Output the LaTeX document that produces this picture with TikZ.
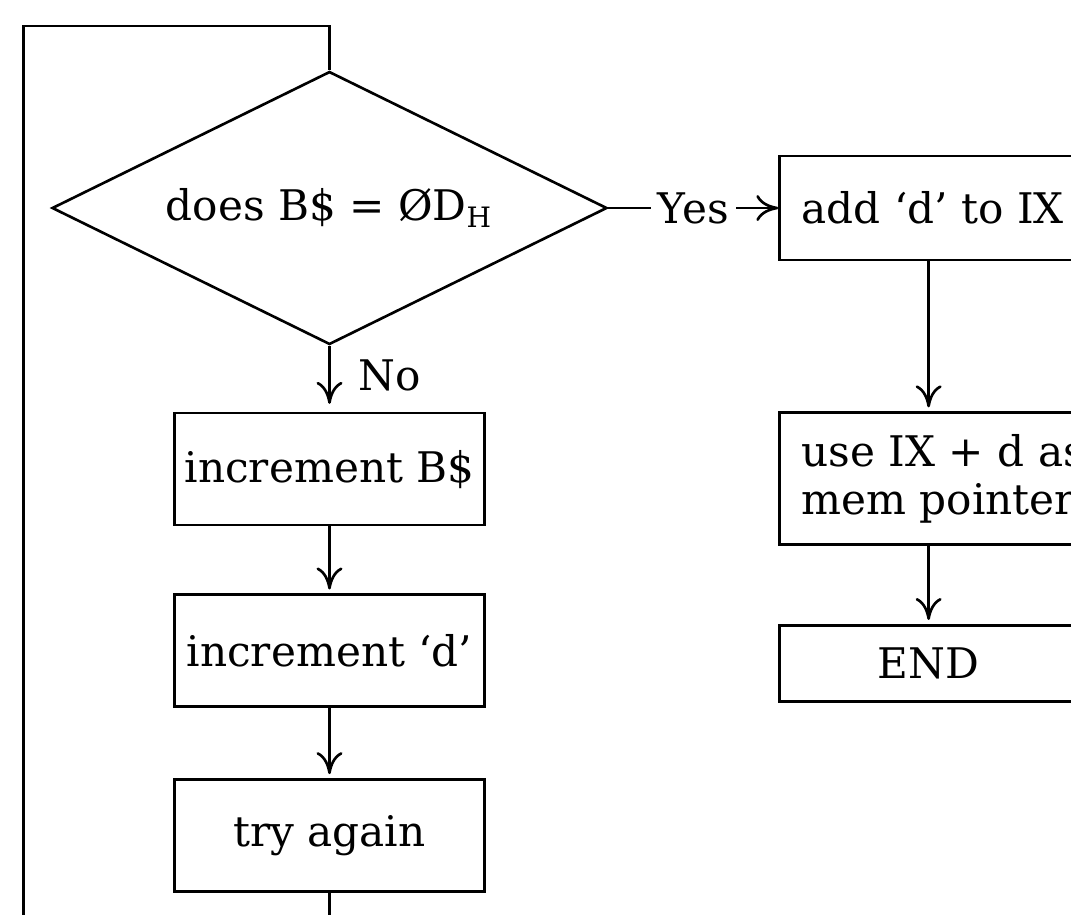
\documentclass[tikz,border=0pt]{standalone}
\usepackage{fontspec}
\setmainfont{DejaVu Serif}
\usetikzlibrary{positioning}
\usetikzlibrary{arrows.meta}
\usetikzlibrary{shapes.geometric}
\tikzset{
        flownode/.style={align=center,inner sep=0pt,font=\fontsize{12}{13.5}\selectfont},
        % Decision node
        node_decision/.style={flownode, diamond, draw, aspect=2, minimum width=5.55cm, minimum height=2.73cm},
        % Left column steps
        node_step/.style={flownode, rectangle, draw, minimum width=3.1cm, minimum height=1.12cm},
        % Right column steps
        node_action/.style={flownode, rectangle, draw, align=left, inner xsep=0.22cm, anchor=west},
        % Branch labels
        node_label/.style={flownode, inner sep=2pt}
}

\begin{document}
\begin{tikzpicture}[
            line width=0.75pt,
            >={To[length=2.2mm,width=2.6mm]},
            node distance=0.67cm
        ]
            \useasboundingbox (0,0) rectangle (10.71,-9.14);
            \clip (0,0) rectangle (10.71,-9.14);
            % Left column
            \node[node_decision] (dec) at (3.295,-2.08) {does B\$ = ØD\textsubscript{H}};
            \node[node_step, below=0.66cm of dec] (incb) {increment B\$};
            \node[node_step, below=of incb] (incd) {increment `d'};
            \node[node_step, below=0.70cm of incd] (again) {try again};
            % Right column
            \node[node_action, minimum height=1.04cm, right=1.70cm of dec] (add) {add `d' to IX};
            \node[node_action, minimum height=1.32cm, below=1.5cm of add.south west, anchor=north west] (use) {use IX + d as\\mem pointer};
            \node[node_action, align=center, minimum width=2.98cm, minimum height=0.76cm, below=0.78cm of use.south west, anchor=north west] (stop) {END};
            % Loop back
            \coordinate (loopbot) at (0.235,-9.5);
            \coordinate (looptop) at (0.235,-0.26);
            % Connectors
            \draw[->, shorten >=0.8mm] (dec.south) -- node[node_label, right, pos=0.45, inner xsep=0.28cm]{No} (incb.north);
            \draw[->, shorten >=0.4mm] (incb) -- (incd);
            \draw[->, shorten >=0.4mm] (incd) -- (again);
            \draw[->] (dec.east) -- node[node_label, fill=white]{Yes} (add.west);
            \draw[->, shorten >=0.4mm] (add.south -| stop) -- (use.north -| stop);
            \draw[->, shorten >=0.4mm] (use.south -| stop) -- (stop.north);
            \draw (again.south) |- (loopbot) -- (looptop) -| (dec.north);
        \end{tikzpicture}
\end{document}
